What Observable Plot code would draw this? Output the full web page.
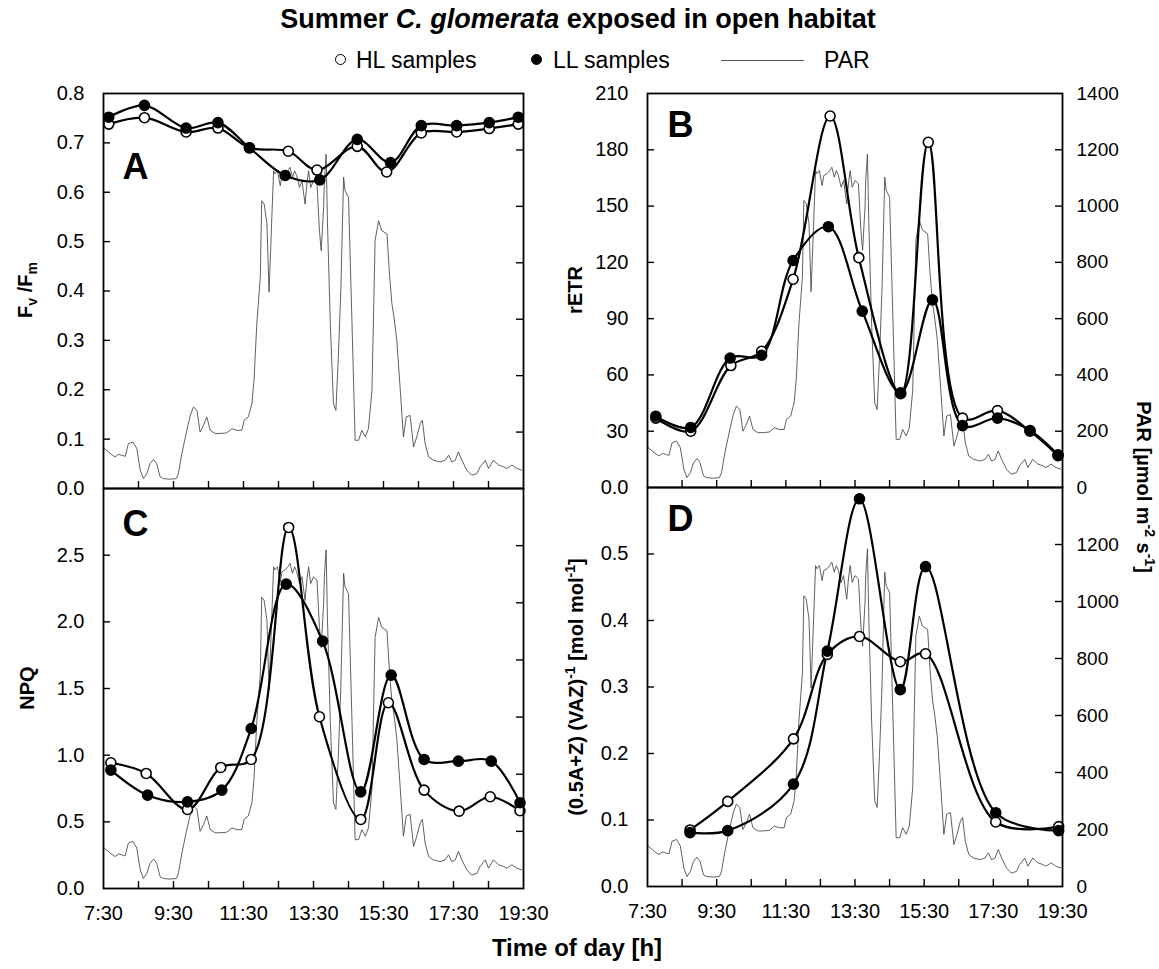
<!DOCTYPE html>
<html>
<head>
<meta charset="utf-8">
<script src="https://cdn.jsdelivr.net/npm/d3@7"></script>
<script src="https://cdn.jsdelivr.net/npm/@observablehq/plot@0.6"></script>
<style>
  body { margin: 0; background: #fff; }
  #root { position: relative; width: 1159px; height: 969px; background: #fff; color: #000;
          font-family: "Liberation Sans", Arial, Helvetica, sans-serif; overflow: hidden; }
  .t { position: absolute; white-space: nowrap; transform: translate(-50%, -50%); }
  .rot { transform: translate(-50%, -50%) rotate(-90deg); }
  .rotr { transform: translate(-50%, -50%) rotate(90deg); }
  .b { font-weight: bold; }
  sub, sup { font-size: 70%; }
  .plot { position: absolute; }
</style>
</head>
<body>
<div id="root"></div>
<script>
// ---------------- DATA ----------------
// PAR trace (time of day in decimal hours, µmol m-2 s-1)
const parTime = [7.52,7.69,7.83,7.93,8.02,8.12,8.21,8.34,8.45,8.55,8.64,8.74,8.83,8.93,9.02,9.12,9.21,9.40,9.58,9.64,9.74,9.88,9.98,10.07,10.17,10.26,10.36,10.45,10.55,10.69,10.83,11.02,11.17,11.31,11.45,11.52,11.64,11.74,11.80,11.88,11.98,12.02,12.09,12.17,12.23,12.31,12.36,12.40,12.47,12.55,12.60,12.69,12.77,12.83,12.90,12.96,13.02,13.10,13.17,13.26,13.31,13.36,13.42,13.50,13.60,13.67,13.72,13.79,13.81,13.86,13.90,13.98,14.07,14.14,14.21,14.28,14.36,14.40,14.50,14.60,14.69,14.79,14.88,14.98,15.07,15.17,15.26,15.36,15.45,15.60,15.67,15.74,15.80,15.88,15.98,16.07,16.15,16.26,16.36,16.45,16.55,16.61,16.69,16.79,16.93,17.12,17.26,17.36,17.45,17.55,17.64,17.74,17.88,18.02,18.17,18.26,18.41,18.50,18.64,18.79,18.93,19.02,19.17,19.31,19.45];
const parValue = [142,124,112,121,118,114,159,165,142,65,35,53,88,103,88,41,35,33,35,53,124,206,259,289,277,200,224,254,206,195,195,197,212,206,206,242,254,301,383,584,749,1020,1008,938,696,961,1126,1115,1126,1073,1109,1115,1126,1138,1103,1126,1109,1067,1091,1008,1079,1126,1067,1091,1079,914,843,997,1091,1185,938,584,301,277,466,702,1103,1056,1032,584,171,171,206,183,212,348,879,949,914,902,761,655,607,525,348,183,254,259,147,183,230,242,159,112,100,94,100,118,94,100,130,100,65,47,53,77,100,71,100,83,77,71,83,71,65];

// Panel A: Fv/Fm
const fvfmTimeHL = [7.65,8.67,9.86,10.77,11.67,12.78,13.60,14.75,15.59,16.58,17.59,18.52,19.35];
const fvfmHL     = [0.738,0.751,0.722,0.730,0.690,0.683,0.645,0.693,0.641,0.720,0.722,0.729,0.738];
const fvfmTimeLL = [7.65,8.67,9.86,10.77,11.67,12.69,13.68,14.75,15.70,16.58,17.59,18.52,19.35];
const fvfmLL     = [0.752,0.776,0.730,0.741,0.690,0.634,0.625,0.707,0.660,0.735,0.735,0.741,0.752];

// Panel B: rETR
const etrTimeHL = [7.74,8.75,9.91,10.80,11.71,12.78,13.61,14.82,15.62,16.61,17.62,18.56,19.37];
const etrHL     = [37,30,65,72.6,111,198,122.5,50,184,37,41,30,17];
const etrTimeLL = [7.74,8.75,9.89,10.80,11.71,12.73,13.71,14.82,15.74,16.61,17.62,18.56,19.37];
const etrLL     = [38,32,69,70.5,121,139,94,50.5,100,33,37,30.4,17.4];

// Panel C: NPQ
const npqTimeHL = [7.71,8.72,9.90,10.85,11.72,12.79,13.67,14.85,15.64,16.66,17.66,18.55,19.40];
const npqHL     = [0.943,0.863,0.593,0.908,0.968,2.708,1.288,0.518,1.393,0.738,0.58,0.688,0.583];
const npqTimeLL = [7.71,8.76,9.90,10.88,11.72,12.72,13.76,14.85,15.72,16.66,17.64,18.58,19.40];
const npqLL     = [0.888,0.70,0.65,0.738,1.2,2.283,1.855,0.725,1.6,0.968,0.955,0.955,0.643];

// Panel D: (0.5A+Z)(VAZ)^-1
const depsTime = [8.73,9.82,11.72,12.70,13.63,14.81,15.54,17.57,19.39];
const depsHL   = [0.085,0.128,0.222,0.349,0.376,0.338,0.350,0.097,0.090];
const depsLL   = [0.081,0.084,0.154,0.354,0.583,0.296,0.481,0.111,0.084];

// Tick values / labels
const hourTicks = [8.5,9.5,10.5,11.5,12.5,13.5,14.5,15.5,16.5,17.5,18.5];
const xLabelHours = [7.5,9.5,11.5,13.5,15.5,17.5,19.5];
const xLabels = ["7:30","9:30","11:30","13:30","15:30","17:30","19:30"];
const fvfmTicks = [0,0.1,0.2,0.3,0.4,0.5,0.6,0.7,0.8];
const etrTicks = [0,30,60,90,120,150,180,210];
const npqTicks = [0,0.5,1.0,1.5,2.0,2.5];
const depsTicks = [0,0.1,0.2,0.3,0.4,0.5];
const parTicksTop = [0,200,400,600,800,1000,1200,1400];
const parTicksBottom = [0,200,400,600,800,1000,1200];
const parInnerTicks = [200,400,600,800,1000,1200];
const parMax = 1400;

// ---------------- LAYOUT ----------------
const root = document.getElementById("root");
const FONT = '"Liberation Sans", Arial, Helvetica, sans-serif';
const M = {left: 80, right: 80, top: 30, bottom: 50};

function series(t, v) { return t.map((x, i) => ({t: x, v: v[i]})); }
const parData = parTime.map((t, i) => ({t, p: parValue[i]}));

function panel(cfg) {
  const fw = cfg.x1 - cfg.x0, fh = cfg.y1 - cfg.y0;
  const k = cfg.yMax / parMax;
  const hl = series(cfg.tHL, cfg.vHL), ll = series(cfg.tLL, cfg.vLL);
  const marks = [
    Plot.line(parData, {x: "t", y: d => d.p * k, stroke: "#444", strokeWidth: 0.85}),
    Plot.line(hl, {x: "t", y: "v", curve: "catmull-rom", stroke: "#000", strokeWidth: 2.2}),
    Plot.line(ll, {x: "t", y: "v", curve: "catmull-rom", stroke: "#000", strokeWidth: 2.2}),
    Plot.dot(hl, {x: "t", y: "v", r: 5, fill: "#fff", stroke: "#000", strokeWidth: 1.6}),
    Plot.dot(ll, {x: "t", y: "v", r: 5, fill: "#000", stroke: "#000", strokeWidth: 1.6}),
    // inward ticks
    Plot.tickY(cfg.leftTicks.filter(d => d > 0 && d < cfg.yMax), {y: d => d, insetRight: fw - 7, stroke: "#000", strokeWidth: 1.4}),
    Plot.tickY(parInnerTicks, {y: d => d * k, insetLeft: fw - 7, stroke: "#000", strokeWidth: 1.4}),
    Plot.tickX(hourTicks, {x: d => d, insetTop: fh - 7, stroke: "#000", strokeWidth: 1.4}),
    // tick labels
    Plot.axisY(cfg.leftTicks, {anchor: "left", tickSize: 0, tickPadding: 19, label: null,
      tickFormat: cfg.leftFmt, fontSize: 20}),
    Plot.frame({stroke: "#000", strokeWidth: 1.8}),
    Plot.text([cfg.letter], {frameAnchor: "top-left", dx: cfg.letterDx, dy: cfg.letterDy,
      fontSize: 36, fontWeight: "bold", textAnchor: "start", lineAnchor: "top", fill: "#000"})
  ];
  if (cfg.rightTicks) {
    marks.push(Plot.axisY(cfg.rightTicks.map(d => d * k), {anchor: "right", tickSize: 0, tickPadding: 14,
      label: null, fontSize: 19, tickFormat: d => String(Math.round(d / k))}));
  }
  if (cfg.bottomLabels) {
    marks.push(Plot.axisX(xLabelHours, {anchor: "bottom", tickSize: 0, tickPadding: 17, label: null,
      fontSize: 20, tickFormat: (d, i) => xLabels[i]}));
  }
  const chart = Plot.plot({
    width: fw + M.left + M.right,
    height: fh + M.top + M.bottom,
    marginLeft: M.left, marginRight: M.right, marginTop: M.top, marginBottom: M.bottom,
    x: {domain: [7.5, 19.5], axis: null},
    y: {domain: [0, cfg.yMax], axis: null},
    style: {fontFamily: FONT, fontSize: "20px", color: "#000", background: "transparent", overflow: "visible"},
    marks
  });
  chart.classList.add("plot");
  chart.style.left = (cfg.x0 - M.left) + "px";
  chart.style.top = (cfg.y0 - M.top) + "px";
  chart.style.position = "absolute";
  root.appendChild(chart);
}

panel({x0: 103, x1: 523, y0: 93, y1: 488, yMax: 0.8, letter: "A", letterDx: 19, letterDy: 60,
  tHL: fvfmTimeHL, vHL: fvfmHL, tLL: fvfmTimeLL, vLL: fvfmLL,
  leftTicks: fvfmTicks, leftFmt: d => d.toFixed(1)});
panel({x0: 647, x1: 1062, y0: 93, y1: 487, yMax: 210, letter: "B", letterDx: 20, letterDy: 18,
  tHL: etrTimeHL, vHL: etrHL, tLL: etrTimeLL, vLL: etrLL,
  leftTicks: etrTicks, leftFmt: d => d === 0 ? "0.0" : String(d), rightTicks: parTicksTop});
panel({x0: 103, x1: 523, y0: 488, y1: 888, yMax: 3.0, letter: "C", letterDx: 19, letterDy: 22,
  tHL: npqTimeHL, vHL: npqHL, tLL: npqTimeLL, vLL: npqLL,
  leftTicks: npqTicks, leftFmt: d => d.toFixed(1), bottomLabels: true});
panel({x0: 647, x1: 1062, y0: 487, y1: 886, yMax: 0.6, letter: "D", letterDx: 20, letterDy: 18,
  tHL: depsTime, vHL: depsHL, tLL: depsTime, vLL: depsLL,
  leftTicks: depsTicks, leftFmt: d => d.toFixed(1), rightTicks: parTicksBottom, bottomLabels: true});

// ---------------- TEXT (title, legend, axis titles) ----------------
function addText(html, x, y, cls, size) {
  const d = document.createElement("div");
  d.className = "t " + (cls || "");
  d.style.left = x + "px"; d.style.top = y + "px";
  d.style.fontSize = size + "px";
  d.innerHTML = html;
  root.appendChild(d);
  return d;
}
addText("Summer <i>C. glomerata</i> exposed in open habitat", 578, 19, "b", 27);

// legend
function legendDot(x, y, filled) {
  const d = document.createElement("div");
  d.style.cssText = `position:absolute;left:${x - 6}px;top:${y - 6}px;width:9px;height:9px;border-radius:50%;border:1.6px solid #000;background:${filled ? "#000" : "#fff"}`;
  root.appendChild(d);
}
legendDot(341, 60, false);
const t1 = addText("HL samples", 356, 60, "", 23); t1.style.transform = "translate(0,-50%)";
legendDot(537, 60, true);
const t2 = addText("LL samples", 553, 60, "", 23); t2.style.transform = "translate(0,-50%)";
const ln = document.createElement("div");
ln.style.cssText = "position:absolute;left:721px;top:60px;width:83px;height:1px;background:#555";
root.appendChild(ln);
const t3 = addText("PAR", 824, 60, "", 23); t3.style.transform = "translate(0,-50%)";

// axis titles
addText("F<sub>v</sub> /F<sub>m</sub>", 27, 290, "b rot", 20);
addText("NPQ", 27, 688, "b rot", 20);
addText("rETR", 575, 290, "b rot", 20);
addText("(0.5A+Z) (VAZ)<sup>-1</sup> [mol mol<sup>-1</sup>]", 575, 687, "b rot", 20);
addText("PAR [µmol m<sup>-2</sup> s<sup>-1</sup>]", 1145, 487, "b rotr", 20);
addText("Time of day [h]", 577, 948, "b", 24);
</script>
</body>
</html>
